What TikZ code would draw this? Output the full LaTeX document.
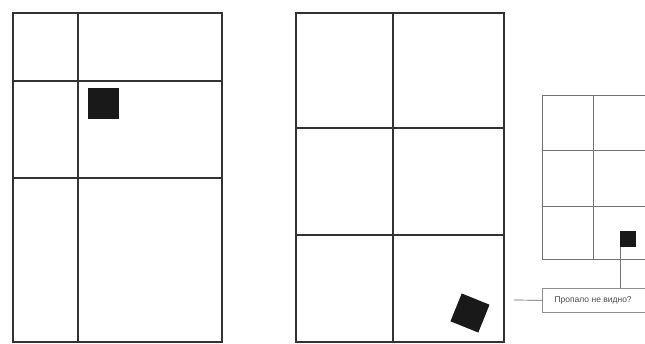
\documentclass[tikz,border=0pt]{standalone}
\usepackage{fontspec}
\setmainfont{Liberation Sans}
\begin{document}
\begin{tikzpicture}[x=1pt,y=-1pt,
  gridline/.style={line width=1.3pt,draw=black!80},
  thinline/.style={line width=0.7pt,draw=black!55},
  block/.style={fill=black!90,draw=none},
  labelbox/.style={draw=black!45,line width=0.6pt,fill=white,minimum height=24pt,minimum width=110pt,inner sep=0pt}]
\useasboundingbox (0,0) rectangle (645,343);
\clip (0,0) rectangle (645,343);
\fill[white] (0,0) rectangle (645,343);
% left grid
\draw[gridline] (13,13) rectangle (222,342);
\draw[gridline] (78,13) -- (78,342);
\draw[gridline] (13,81) -- (222,81);
\draw[gridline] (13,178) -- (222,178);
\fill[block] (88,88) rectangle (119,119);
% middle grid
\draw[gridline] (296,13) rectangle (504,342);
\draw[gridline] (393,13) -- (393,342);
\draw[gridline] (296,128) -- (504,128);
\draw[gridline] (296,235) -- (504,235);
\fill[block,rotate around={-22:(470,313)}] (455,298) rectangle (485,328);
% right grid
\draw[thinline] (542,95) rectangle (700,259);
\draw[thinline] (593,95) -- (593,259);
\draw[thinline] (542,150) -- (700,150);
\draw[thinline] (542,206) -- (700,206);
\node[block,minimum size=16pt,inner sep=0pt] (sq) at (627.5,239) {};
\node[labelbox,anchor=north west] (lbl) at (542,288) {};
\node[anchor=west,font=\fontsize{8.5}{9}\selectfont,text=black!70] (txt) at (551,300.5) {Пропало не видно?};
\coordinate (lead) at (514,300);
\draw[thinline] (sq.south -| 620,0) -- (620,288);
\draw[thinline,draw=black!60] (lead) -- (lbl.west);
\end{tikzpicture}
\end{document}
